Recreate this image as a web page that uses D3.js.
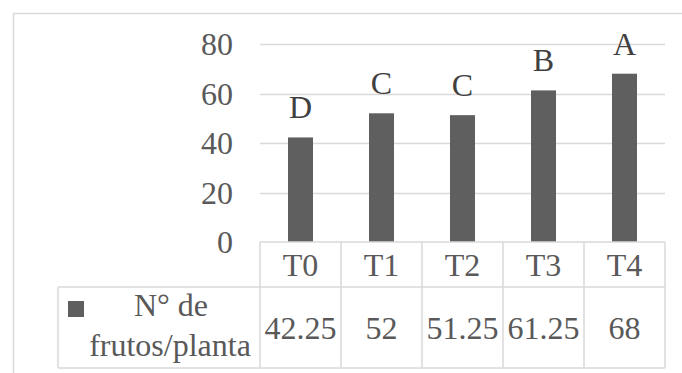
<!DOCTYPE html>
<html>
<head>
<meta charset="utf-8">
<script src="https://cdn.jsdelivr.net/npm/d3@7"></script>
<style>
  html, body { margin: 0; padding: 0; background: #fff; }
  svg { display: block; }
</style>
</head>
<body>
<svg id="chart" width="682" height="373"></svg>
<script>
// Treatments and mean number of fruits per plant
const categories = ["T0", "T1", "T2", "T3", "T4"];
const frutos = [42.25, 52, 51.25, 61.25, 68];
const letters = ["D", "C", "C", "B", "A"];
const seriesName = ["N° de", "frutos/planta"];
const yTicks = [0, 20, 40, 60, 80];

const W = 682, H = 373;
const svg = d3.select("#chart");

const plotLeft = 260, plotRight = 665;
const plotTop = 44, plotBottom = 242;
const row1Bottom = 287, row2Bottom = 368;
const legendLeft = 58;

const grid = "#d9d9d9";
const barColor = "#5f5f5f";
const textColor = "#595959";
const fontSize = 32;
const serif = "'Liberation Serif', 'Times New Roman', serif";

// outer chart frame (continues past the page edges)
svg.append("rect")
  .attr("x", 13.5).attr("y", 13.5)
  .attr("width", W + 20).attr("height", H + 20)
  .attr("fill", "none").attr("stroke", grid).attr("stroke-width", 1.5);

const x = d3.scaleBand().domain(categories).range([plotLeft, plotRight]).padding(0);
const y = d3.scaleLinear().domain([0, 80]).range([plotBottom, plotTop]);

// horizontal gridlines
svg.append("g").selectAll("line").data(yTicks.filter(d => d > 0)).join("line")
  .attr("x1", plotLeft).attr("x2", plotRight)
  .attr("y1", d => Math.round(y(d)) + 0.5).attr("y2", d => Math.round(y(d)) + 0.5)
  .attr("stroke", grid).attr("stroke-width", 1.5);

// y axis labels
const yAxis = d3.axisLeft(y).tickValues(yTicks).tickSize(0).tickPadding(0);
const yg = svg.append("g").attr("transform", `translate(${plotLeft - 27},0)`).call(yAxis);
yg.attr("font-family", serif).attr("font-size", fontSize);
yg.select(".domain").remove();
yg.selectAll("text").attr("fill", textColor).attr("dy", "0.34em");

// bars
const barW = 25;
svg.append("g").selectAll("rect").data(frutos).join("rect")
  .attr("x", (d, i) => x(categories[i]) + x.bandwidth() / 2 - barW / 2)
  .attr("width", barW)
  .attr("y", d => y(d))
  .attr("height", d => y(0) - y(d))
  .attr("fill", barColor);

// significance letters above bars
svg.append("g").selectAll("text").data(frutos).join("text")
  .attr("x", (d, i) => x(categories[i]) + x.bandwidth() / 2)
  .attr("y", d => y(d) - 19)
  .attr("text-anchor", "middle")
  .attr("font-family", serif)
  .attr("font-size", fontSize).attr("fill", "#404040")
  .text((d, i) => letters[i]);

// data table grid
const tg = svg.append("g").attr("stroke", grid).attr("stroke-width", 1.5);
tg.append("line").attr("x1", plotLeft).attr("x2", plotRight).attr("y1", plotBottom).attr("y2", plotBottom);
tg.append("line").attr("x1", legendLeft).attr("x2", plotRight).attr("y1", row1Bottom).attr("y2", row1Bottom);
tg.append("line").attr("x1", legendLeft).attr("x2", plotRight).attr("y1", row2Bottom).attr("y2", row2Bottom);
tg.append("line").attr("x1", legendLeft).attr("x2", legendLeft).attr("y1", row1Bottom).attr("y2", row2Bottom);
const colEdges = categories.map(c => x(c)).concat([plotRight]);
tg.selectAll(".col").data(colEdges).join("line")
  .attr("x1", d => d).attr("x2", d => d)
  .attr("y1", plotBottom).attr("y2", row2Bottom);

// category row
svg.append("g").selectAll("text").data(categories).join("text")
  .attr("x", d => x(d) + x.bandwidth() / 2)
  .attr("y", 276)
  .attr("text-anchor", "middle")
  .attr("font-family", serif)
  .attr("font-size", fontSize).attr("fill", textColor)
  .text(d => d);

// value row
svg.append("g").selectAll("text").data(frutos).join("text")
  .attr("x", (d, i) => x(categories[i]) + x.bandwidth() / 2)
  .attr("y", 339)
  .attr("text-anchor", "middle")
  .attr("font-family", serif)
  .attr("font-size", fontSize).attr("fill", textColor)
  .text(d => d);

// legend key and series name
svg.append("rect")
  .attr("x", 68).attr("y", 301).attr("width", 16).attr("height", 16)
  .attr("fill", barColor);
svg.append("text")
  .attr("x", 171).attr("y", 316)
  .attr("text-anchor", "middle")
  .attr("font-family", serif)
  .attr("font-size", fontSize).attr("fill", textColor)
  .text(seriesName[0]);
svg.append("text")
  .attr("x", 170).attr("y", 356)
  .attr("text-anchor", "middle")
  .attr("font-family", serif)
  .attr("font-size", fontSize).attr("fill", textColor)
  .text(seriesName[1]);
</script>
</body>
</html>
